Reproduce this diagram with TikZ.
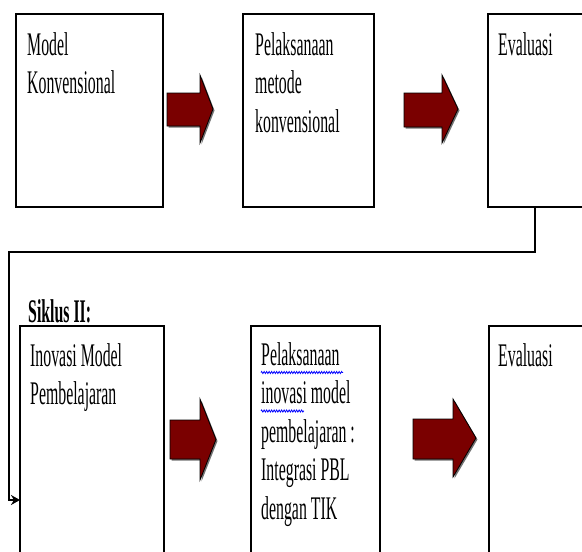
\documentclass[tikz,border=0pt]{standalone}
\usepackage{fontspec}
\setmainfont{Liberation Serif}[FakeStretch=0.48]
\usetikzlibrary{arrows.meta,decorations.pathmorphing}
\definecolor{arrowred}{HTML}{7A0000}
\newcommand\blkarrow[7]{%
  \fill[black!55] (#1+1.5,#4+1.5) -- (#2+1.5,#4+1.5) -- (#2+1.5,#6+1.5) -- (#3+1.5,#6/2+#7/2+1.5) -- (#2+1.5,#7+1.5) -- (#2+1.5,#5+1.5) -- (#1+1.5,#5+1.5) -- cycle;
  \draw[blockarrow] (#1,#4) -- (#2,#4) -- (#2,#6) -- (#3,#6/2+#7/2) -- (#2,#7) -- (#2,#5) -- (#1,#5) -- cycle;}
\tikzset{
  box/.style={draw=black, line width=1.3pt, fill=white, inner sep=0pt, outer sep=0pt, anchor=north west},
  txt/.style={anchor=base west, inner sep=0pt, font=\fontsize{33}{38.5}\selectfont},
  blockarrow/.style={fill=arrowred, draw=black, line width=0.8pt},
  conn/.style={line width=2.6pt, -{Stealth[length=9pt,width=10pt]}},
  squiggle/.style={blue, line width=0.8pt, decorate, decoration={zigzag, amplitude=1pt, segment length=2.5pt}}
}
\begin{document}
\begin{tikzpicture}[x=1pt,y=-1pt]
\useasboundingbox (0,0) rectangle (582,552);
\clip (0,0) rectangle (582,552);
% Siklus I boxes
\node[box, minimum width=147pt, minimum height=193pt] (b1) at (16,14) {};
\node[box, minimum width=131pt, minimum height=193pt] (b2) at (243,14) {};
\node[box, minimum width=120pt, minimum height=193pt] (b3) at (488,14) {};
% Siklus II boxes
\node[box, minimum width=144pt, minimum height=250pt] (b4) at (20,326) {};
\node[box, minimum width=129pt, minimum height=250pt] (b5) at (251,326) {};
\node[box, minimum width=120pt, minimum height=250pt] (b6) at (489,326) {};
% texts
\node[txt] (t1) at (27,55) {\parbox[t]{135pt}{\raggedright Model\\Konvensional}};
\node[txt] (t2) at (255,55) {\parbox[t]{115pt}{\raggedright Pelaksanaan\\metode\\konvensional}};
\node[txt] (t3) at (498,55) {Evaluasi};
\node[txt, font=\bfseries\fontsize{33}{38.5}\selectfont] (s2) at (28,322) {Siklus II:};
\node[txt] (t4) at (30,366) {\parbox[t]{130pt}{\raggedright Inovasi Model\\Pembelajaran}};
\node[txt] (t5) at (261,365) {\parbox[t]{118pt}{\raggedright Pelaksanaan\\inovasi model\\pembelajaran :\\Integrasi PBL\\dengan TIK}};
\node[txt] (t6) at (498,366) {Evaluasi};
\draw[squiggle] (261,372.5) -- (343,372.5);
\draw[squiggle] (261,411) -- (304,411);
% block arrows
\blkarrow{167}{200}{213}{93}{126}{75}{143}
\blkarrow{404}{442}{458}{93}{127}{75}{143}
\blkarrow{170}{200}{216}{420}{459}{399}{480}
\blkarrow{413}{453}{476}{419}{459}{399}{477}
% connector from Siklus I evaluation to Siklus II
\coordinate (c0) at ([xshift=47pt]b3.south west);
\coordinate (turn) at (9,252);
\draw[conn] (c0) |- (turn) |- ([yshift=-49pt]b4.west);
\end{tikzpicture}
\end{document}
